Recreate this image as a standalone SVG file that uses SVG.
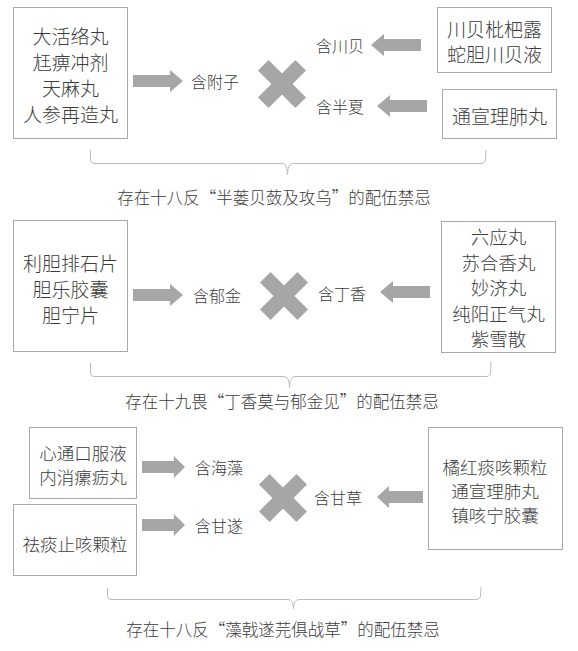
<svg xmlns="http://www.w3.org/2000/svg" width="578" height="651" viewBox="0 0 578 651">
<style>
.box{fill:#fff;stroke:#a8a8a8;stroke-width:1}
.t{font-family:"Noto Sans CJK SC","Noto Sans CJK TC",sans-serif;font-weight:300;fill:#3c3c3c;text-anchor:middle;dominant-baseline:central}
.b{font-size:19px}
.b2{font-size:18.5px}
.b3{font-size:17.5px}
.l{font-size:16px}
.c{font-size:16.5px}
.arr{fill:#a6a6a6}
.br{fill:none;stroke:#bdbdbd;stroke-width:1}
</style>
<defs>
<path id="ar" d="M0,-6 L37,-6 L37,-11 L50,0 L37,11 L37,6 L0,6 Z"/>
<g id="x">
<rect x="-26.5" y="-7.5" width="53" height="15" transform="rotate(45)"/>
<rect x="-26.5" y="-7.5" width="53" height="15" transform="rotate(-45)"/>
</g>
</defs>
<rect width="578" height="651" fill="#fff"/>

<g id="n1a"><rect class="box" x="13.5" y="7.5" width="114" height="131"/>
<text class="t b" x="70.5" y="35">大活络丸</text>
<text class="t b" x="70.5" y="61">尪痹冲剂</text>
<text class="t b" x="70.5" y="87">天麻丸</text>
<text class="t b" x="70.5" y="113">人参再造丸</text></g>
<g id="n1b"><rect class="box" x="437.5" y="7.5" width="114" height="65"/>
<text class="t b" x="494.5" y="28">川贝枇杷露</text>
<text class="t b" x="494.5" y="53">蛇胆川贝液</text></g>
<g id="n1c"><rect class="box" x="442.5" y="89.5" width="114" height="49"/>
<text class="t b" x="499.5" y="115">通宣理肺丸</text></g>
<g id="l1"><text class="t l" x="215" y="81">含附子</text>
<text class="t l" x="340" y="45">含川贝</text>
<text class="t l" x="340" y="106">含半夏</text></g>
<g id="x1" class="arr"><use href="#x" x="282" y="84"/></g>

<g id="n2a"><rect class="box" x="13.5" y="220.5" width="114" height="131"/>
<text class="t b" x="70.5" y="262">利胆排石片</text>
<text class="t b" x="70.5" y="288">胆乐胶囊</text>
<text class="t b" x="70.5" y="314">胆宁片</text></g>
<g id="n2b"><rect class="box" x="441.5" y="221.5" width="114" height="131"/>
<text class="t b2" x="498.5" y="236">六应丸</text>
<text class="t b2" x="498.5" y="261.5">苏合香丸</text>
<text class="t b2" x="498.5" y="287">妙济丸</text>
<text class="t b2" x="498.5" y="312.5">纯阳正气丸</text>
<text class="t b2" x="498.5" y="338">紫雪散</text></g>
<g id="l2"><text class="t l" x="217" y="295">含郁金</text>
<text class="t l" x="342" y="293">含丁香</text></g>
<g id="x2" class="arr"><use href="#x" x="284" y="296"/></g>

<g id="n3a"><rect class="box" x="29.5" y="427.5" width="107" height="71"/>
<text class="t b3" x="83" y="452">心通口服液</text>
<text class="t b3" x="83" y="476">内消瘰疬丸</text></g>
<g id="n3b"><rect class="box" x="13.5" y="504.5" width="123" height="71"/>
<text class="t b3" x="75" y="543">祛痰止咳颗粒</text></g>
<g id="n3c"><rect class="box" x="428.5" y="427.5" width="134" height="122"/>
<text class="t b3" x="495" y="466">橘红痰咳颗粒</text>
<text class="t b3" x="495" y="490">通宣理肺丸</text>
<text class="t b3" x="495" y="514">镇咳宁胶囊</text></g>
<g id="l3"><text class="t l" x="219" y="467">含海藻</text>
<text class="t l" x="219" y="525">含甘遂</text>
<text class="t l" x="338" y="497">含甘草</text></g>
<g id="x3" class="arr"><use href="#x" x="283" y="498"/></g>

<g id="connectors">
<use class="arr" href="#ar" x="133" y="81"/>
<use class="arr" href="#ar" transform="translate(421,45) scale(-1,1)"/>
<use class="arr" href="#ar" transform="translate(427,106) scale(-1,1)"/>
<use class="arr" href="#ar" x="133" y="295"/>
<use class="arr" href="#ar" transform="translate(430,292) scale(-1,1)"/>
<use class="arr" href="#ar" transform="translate(142,467) scale(0.86,1)"/>
<use class="arr" href="#ar" transform="translate(142,525) scale(0.86,1)"/>
<use class="arr" href="#ar" transform="translate(423,497) scale(-0.92,1)"/>
<path class="br" d="M90.5,150 L90.5,160 Q90.5,163.5 94,163.5 L282,163.5 Q287.5,163.5 287.5,175 Q287.5,163.5 293,163.5 L481,163.5 Q485.5,163.5 485.5,159 L486,150"/>
<path class="br" d="M90.5,363 L90.5,373 Q90.5,376.5 94,376.5 L284,376.5 Q289.5,376.5 289.5,388 Q289.5,376.5 295,376.5 L486,376.5 Q490.5,376.5 490.5,372 L491,362"/>
<path class="br" d="M107.5,588 L107.5,596 Q107.5,599.5 111,599.5 L288,599.5 Q293.5,599.5 293.5,609 Q293.5,599.5 299,599.5 L476,599.5 Q480.5,599.5 480.5,595 L481,587"/>
</g>

<g id="captions">
<text class="t c" x="274" y="197">存在十八反“半蒌贝蔹及攻乌”的配伍禁忌</text>
<text class="t c" x="282" y="401">存在十九畏“丁香莫与郁金见”的配伍禁忌</text>
<text class="t c" x="283" y="629">存在十八反“藻戟遂芫俱战草”的配伍禁忌</text>
</g>
</svg>
